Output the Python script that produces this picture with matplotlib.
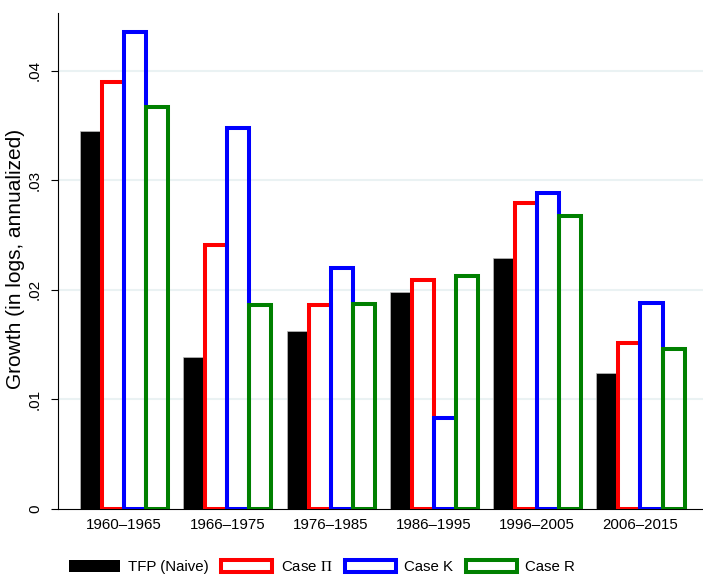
import matplotlib
matplotlib.use("Agg")
import matplotlib.pyplot as plt
from matplotlib.patches import Patch
import numpy as np

periods = ["1960\u20131965", "1966\u20131975", "1976\u20131985", "1986\u20131995", "1996\u20132005", "2006\u20132015"]
tfp_naive = [0.0345, 0.0138, 0.0162, 0.0198, 0.0229, 0.0124]
case_pi = [0.0390, 0.0241, 0.0186, 0.0209, 0.0279, 0.0151]
case_k = [0.0435, 0.0348, 0.0220, 0.0083, 0.0288, 0.0188]
case_r = [0.0367, 0.0186, 0.0187, 0.0212, 0.0267, 0.0146]
yticks = [0, 0.01, 0.02, 0.03, 0.04]
yticklabels = ["0", ".01", ".02", ".03", ".04"]
legend_labels = ["TFP (Naive)", r"Case $\Pi$", "Case K", "Case R"]

plt.rcParams["font.family"] = ["Liberation Sans", "DejaVu Sans"]
plt.rcParams["mathtext.fontset"] = "stix"

fig = plt.figure(figsize=(7.03, 5.84), dpi=100)
ax = fig.add_axes([58/703, 1-508.5/584, 1-58/703, (508.5-12.7)/584])

x = np.arange(len(periods))
w = 0.213
lw = 2.9
ax.bar(x - 1.5*w, tfp_naive, w, color="black", edgecolor="#bbbbbb", linewidth=0.5, zorder=3)
ax.bar(x - 0.5*w, case_pi, w, facecolor="none", edgecolor="#ff0000", linewidth=lw, zorder=4)
ax.bar(x + 0.5*w, case_k, w, facecolor="none", edgecolor="#0000ff", linewidth=lw, zorder=5)
ax.bar(x + 1.5*w, case_r, w, facecolor="none", edgecolor="#008000", linewidth=lw, zorder=6)

ax.set_xlim((58-124)/103.3, (703-124)/103.3)
ax.set_ylim(0, 0.0453)
ax.set_yticks(yticks)
ax.set_yticklabels(yticklabels, rotation=90, va="center", fontsize=11)
ax.set_xticks(x)
ax.set_xticklabels(periods, fontsize=10.8)
ax.tick_params(axis="x", length=0, pad=7)
ax.tick_params(axis="y", length=5, width=0.8, pad=6.5)
for v in yticks[1:]:
    ax.axhline(v, color="#eaf2f3", linewidth=1.5, zorder=1)
for s in ["top", "right"]:
    ax.spines[s].set_visible(False)
ax.spines["left"].set_linewidth(0.8)
ax.spines["bottom"].set_linewidth(0.8)
ax.set_ylabel("Growth (in logs, annualized)", fontsize=15, va="center")
ax.yaxis.set_label_coords(16/703, 1-259/584, transform=fig.transFigure)

handles = [
    Patch(facecolor="black", edgecolor="black", linewidth=0),
    Patch(facecolor="white", edgecolor="#ff0000", linewidth=lw),
    Patch(facecolor="white", edgecolor="#0000ff", linewidth=lw),
    Patch(facecolor="white", edgecolor="#008000", linewidth=lw),
]
fig.legend(handles, legend_labels, loc="center", bbox_to_anchor=(322/703, 1-567/584), ncol=4,
           frameon=False, fontsize=10.8, handlelength=3.4, handleheight=0.9,
           handletextpad=0.55, columnspacing=0.85)

fig.savefig("out.png", dpi=100)
